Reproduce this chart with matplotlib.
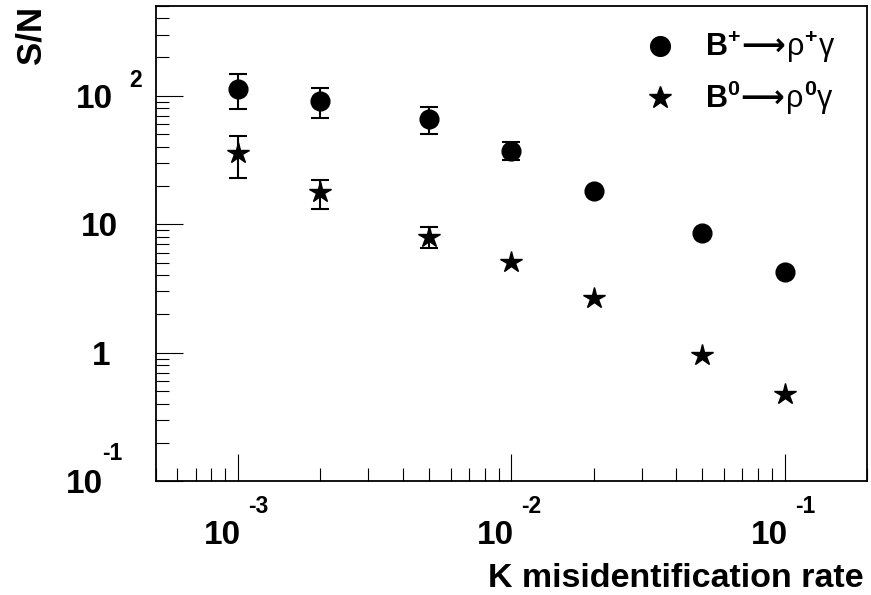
import numpy as np
import matplotlib
matplotlib.use('Agg')
from matplotlib import pyplot as plt

plt.rcParams['font.family'] = ['Liberation Sans', 'DejaVu Sans']
plt.rcParams['font.weight'] = 'bold'
plt.rcParams['mathtext.fontset'] = 'custom'
plt.rcParams['mathtext.rm'] = 'DejaVu Sans'
plt.rcParams['mathtext.it'] = 'Liberation Sans:normal'
plt.rcParams['mathtext.bf'] = 'Liberation Sans:bold'

# K misidentification rate and signal/noise for the two channels
rate = [1e-3, 2e-3, 5e-3, 1e-2, 2e-2, 5e-2, 1e-1]
sn_charged = [114, 91, 66, 37.4, 18.3, 8.5, 4.23]
err_charged = [35, 24, 15.5, 6, 0, 0, 0]
sn_neutral = [35.7, 17.7, 8.0, 5.12, 2.69, 0.96, 0.478]
err_neutral = [12.6, 4.6, 1.5, 0, 0, 0, 0]

x_ticks = [1e-3, 1e-2, 1e-1]
x_exps = ['-3', '-2', '-1']

LABEL_FS = 24
EXP_FS = 16.5
CAP = 0.716 * LABEL_FS * 100 / 72  # digit height in pixels


def draw_errors(ax, x, y, err):
    x, y, err = np.array(x), np.array(y), np.array(err)
    m = err > 0
    ax.errorbar(x[m], y[m], yerr=err[m], fmt='none', ecolor='k',
                elinewidth=1.5, capsize=6.5, capthick=1.5, zorder=2)


fig = plt.figure(figsize=(8.71, 5.95), dpi=100)
ax = fig.add_axes([155.7 / 871, 1 - 481.3 / 595, (867 - 155.7) / 871, (481.3 - 6) / 595])
ax.set_xscale('log')
ax.set_yscale('log')
ax.set_xlim(5e-4, 0.2)
ax.set_ylim(0.1, 500)

draw_errors(ax, rate, sn_charged, err_charged)
draw_errors(ax, rate, sn_neutral, err_neutral)
ax.plot(rate, sn_charged, 'o', color='k', ms=13.5, ls='none', zorder=3,
        label=r'$\mathbf{B}^{\mathbf{+}}\!\longrightarrow\!\rho^{\mathbf{+}}\gamma$')
ax.plot(rate, sn_neutral, '*', color='k', ms=16, ls='none', zorder=3,
        label=r'$\mathbf{B}^{\mathbf{0}}\!\longrightarrow\!\rho^{\mathbf{0}}\gamma$')

# ROOT-like frame: ticks inside, only on left and bottom
ax.tick_params(which='both', direction='in', top=False, right=False,
               labelbottom=False, labelleft=False)
ax.tick_params(which='major', length=19.5, width=0.8)
ax.tick_params(which='minor', length=9.5, width=0.8)
ax.yaxis.set_major_locator(matplotlib.ticker.LogLocator(base=10, numticks=10))
ax.yaxis.set_minor_locator(matplotlib.ticker.LogLocator(base=10, subs=np.arange(2, 10), numticks=20))
for s in ax.spines.values():
    s.set_linewidth(1.3)

# tick labels drawn as "10" plus a raised exponent
for xt, ex in zip(x_ticks, x_exps):
    ax.annotate('10', xy=(xt, 0), xycoords=ax.get_xaxis_transform(),
                xytext=(3, -51 - CAP / 2), textcoords='offset pixels',
                ha='right', va='baseline', fontsize=LABEL_FS)
    ax.annotate(ex, xy=(xt, 0), xycoords=ax.get_xaxis_transform(),
                xytext=(10, -25), textcoords='offset pixels',
                ha='left', va='center', fontsize=EXP_FS)

ytr = ax.get_yaxis_transform()


def ylabel_at(val, text, dx, exp=None, exp_dx=0, exp_dy=0):
    ax.annotate(text, xy=(0, val), xycoords=ytr, xytext=(dx, -CAP / 2),
                textcoords='offset pixels', ha='right', va='baseline',
                fontsize=LABEL_FS)
    if exp is not None:
        ax.annotate(exp, xy=(0, val), xycoords=ytr, xytext=(exp_dx, exp_dy),
                    textcoords='offset pixels', ha='left', va='center',
                    fontsize=EXP_FS)


ylabel_at(100, '10', -43, '2', -26, 15)
ylabel_at(10, '10', -38)
ylabel_at(1, '1', -45)
ylabel_at(0.1, '10', -53, '-1', -54, 28)

ax.text(-125 / 711.3, 1.0, 'S/N', transform=ax.transAxes, rotation=90,
        ha='center', va='top', fontsize=25)
ax.annotate('K misidentification rate', xy=(1.0, 0), xycoords='axes fraction',
            xytext=(-3, -106), textcoords='offset pixels',
            ha='right', va='baseline', fontsize=24.5)

ax.legend(loc='upper right', bbox_to_anchor=(0.955, 0.95), frameon=False,
          borderaxespad=0, borderpad=0, fontsize=22, handletextpad=0.45,
          labelspacing=0.45, markerscale=1.05)

fig.savefig('out.png', dpi=100)
